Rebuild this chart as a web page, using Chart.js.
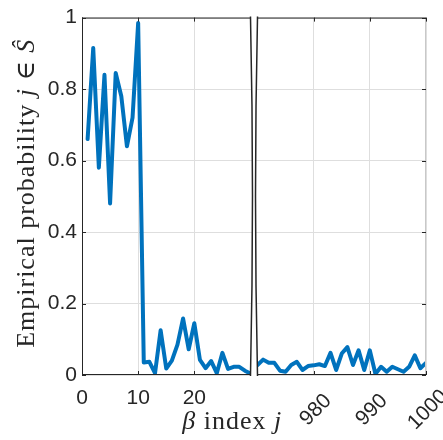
<!DOCTYPE html>
<html><head><meta charset="utf-8">
<script src="https://cdn.jsdelivr.net/npm/chart.js@4/dist/chart.umd.min.js"></script>
<style>html,body{margin:0;padding:0;background:#fff}</style>
</head><body>
<canvas id="c" width="443" height="440"></canvas>
<script>
// ---- data ----
const leftIndex = [1,2,3,4,5,6,7,8,9,10,11,12,13,14,15,16,17,18,19,20,21,22,23,24,25,26,27,28,29,30];
const leftProb  = [0.66,0.915,0.58,0.84,0.48,0.845,0.78,0.64,0.72,0.985,
                   0.035,0.037,0.005,0.125,0.018,0.04,0.085,0.158,0.072,0.145,
                   0.042,0.019,0.039,0.005,0.062,0.017,0.023,0.023,0.012,0.004];
const rightIndex = [970,971,972,973,974,975,976,977,978,979,980,981,982,983,984,985,986,987,988,989,990,991,992,993,994,995,996,997,998,999,1000];
const rightProb  = [0.028,0.043,0.034,0.034,0.012,0.009,0.028,0.037,0.014,0.025,
                    0.027,0.03,0.025,0.062,0.014,0.06,0.078,0.028,0.069,0.014,
                    0.069,0.003,0.023,0.009,0.023,0.016,0.009,0.023,0.055,0.019,0.034];
const leftTicks  = [0,10,20];
const rightTicks = [980,990,1000];
const yTicks     = [0,0.2,0.4,0.6,0.8,1];
const leftRange  = [0,30];
const rightRange = [970,1000];
const xTitleParts = [{t:'β',it:true},{t:' index ',it:false},{t:'j',it:true}];
const yTitleParts = [{t:'Empirical probability ',it:false},{t:'j',it:true},{t:' ∈ ',it:false},{t:'Ŝ',it:true}];

// ---- broken-axis mapping ----
const GAP = 1.25;
const pos = i => (i <= leftRange[1] ? i - leftRange[0] : (leftRange[1]-leftRange[0]) + GAP + (i - rightRange[0]));
const xMax = pos(rightRange[1]);

const BLUE = '#0072BD', AX = '#262626', GRID = '#dedede';
const TICKFONT = "21px 'Liberation Sans', Arial, sans-serif";
const SERIF = "'Liberation Serif','DejaVu Serif',serif";

function measureParts(ctx, parts, size) {
  let w = 0;
  const m = parts.map(p => { ctx.font = (p.it?'italic ':'') + size + 'px ' + SERIF; const mw = ctx.measureText(p.t).width; w += mw; return mw; });
  return {w, m};
}
function fillParts(ctx, parts, size, x0, y0) {
  const {w, m} = measureParts(ctx, parts, size);
  let x = x0 - w/2;
  parts.forEach((p,k) => { ctx.font = (p.it?'italic ':'') + size + 'px ' + SERIF; ctx.fillText(p.t, x, y0); x += m[k]; });
}

const breakPlugin = {
  id: 'breakAxis',
  afterDatasetsDraw(chart) {
    const ctx = chart.ctx, ca = chart.chartArea, xs = chart.scales.x, ys = chart.scales.y;
    const xL = xs.getPixelForValue(pos(leftRange[1]));
    const xR = xs.getPixelForValue(pos(rightRange[0]));
    const t = ca.top, b = ca.bottom, mid = (t+b)/2;
    ctx.save();
    ctx.fillStyle = '#fff';
    ctx.beginPath();
    ctx.moveTo(xL, t-1); ctx.quadraticCurveTo(xL+4, mid, xL, b+1);
    ctx.lineTo(xR, b+1); ctx.quadraticCurveTo(xR-4, mid, xR, t-1);
    ctx.closePath(); ctx.fill();
    ctx.strokeStyle = '#c8c8c8'; ctx.lineWidth = 1;
    ctx.beginPath(); ctx.moveTo(ca.right-0.5, t); ctx.lineTo(ca.right-0.5, b); ctx.stroke();
    ctx.strokeStyle = AX; ctx.lineWidth = 1;
    ctx.beginPath();
    ctx.moveTo(ca.left+0.5, t); ctx.lineTo(ca.left+0.5, b);
    ctx.moveTo(ca.left, b-0.5); ctx.lineTo(xL, b-0.5);
    ctx.moveTo(xR, b-0.5); ctx.lineTo(ca.right, b-0.5);
    ctx.moveTo(ca.left, t+0.5); ctx.lineTo(xL, t+0.5);
    ctx.moveTo(xR, t+0.5); ctx.lineTo(ca.right, t+0.5);
    const tl = 4;
    yTicks.forEach(v => { const y = Math.round(ys.getPixelForValue(v))+0.5;
      ctx.moveTo(ca.left, y); ctx.lineTo(ca.left+tl, y);
      ctx.moveTo(ca.right, y); ctx.lineTo(ca.right-tl, y); });
    leftTicks.concat(rightTicks).forEach(v => { const x = Math.round(xs.getPixelForValue(pos(v)))+0.5;
      ctx.moveTo(x, b); ctx.lineTo(x, b-tl);
      ctx.moveTo(x, t); ctx.lineTo(x, t+tl); });
    ctx.stroke();
    ctx.lineWidth = 1.5;
    ctx.beginPath();
    ctx.moveTo(xL, t-1); ctx.quadraticCurveTo(xL+4, mid, xL, b+1);
    ctx.moveTo(xR, t-1); ctx.quadraticCurveTo(xR-4, mid, xR, b+1);
    ctx.stroke();
    ctx.restore();
  },
  afterDraw(chart) {
    const ctx = chart.ctx, ca = chart.chartArea, xs = chart.scales.x;
    ctx.save();
    ctx.fillStyle = AX;
    ctx.font = TICKFONT;
    ctx.textAlign = 'center'; ctx.textBaseline = 'middle';
    leftTicks.forEach(v => ctx.fillText(String(v), xs.getPixelForValue(pos(v)), ca.bottom + 23));
    rightTicks.forEach(v => {
      ctx.save();
      ctx.translate(xs.getPixelForValue(pos(v)) + 2, ca.bottom + 35);
      ctx.rotate(-Math.PI/4);
      ctx.fillText(String(v), 0, 0);
      ctx.restore();
    });
    ctx.textAlign = 'left'; ctx.textBaseline = 'alphabetic';
    ctx.letterSpacing = '1px';
    fillParts(ctx, xTitleParts, 26, ca.left + 0.437*(ca.right-ca.left), ca.bottom + 54);
    ctx.save();
    ctx.translate(34, (ca.top+ca.bottom)/2 - 3);
    ctx.rotate(-Math.PI/2);
    fillParts(ctx, yTitleParts, 26, 0, 0);
    ctx.restore();
    ctx.restore();
  }
};

new Chart(document.getElementById('c'), {
  type: 'scatter',
  data: {
    datasets: [
      { data: leftIndex.map((i,k)=>({x:pos(i), y:leftProb[k]})), showLine:true, borderColor:BLUE, borderWidth:4,
        pointRadius:0, borderJoinStyle:'round', borderCapStyle:'round', tension:0 },
      { data: rightIndex.map((i,k)=>({x:pos(i), y:rightProb[k]})), showLine:true, borderColor:BLUE, borderWidth:4,
        pointRadius:0, borderJoinStyle:'round', borderCapStyle:'round', tension:0 }
    ]
  },
  options: {
    responsive:false, animation:false, devicePixelRatio:1,
    layout:{ padding:{ top:14, right:17, left:0, bottom:0 } },
    plugins:{ legend:{display:false}, tooltip:{enabled:false} },
    scales:{
      x:{ type:'linear', min:0, max:xMax,
          afterBuildTicks: s => { s.ticks = [10,20].concat(rightTicks.slice(0,2)).map(v=>({value:pos(v)})).concat([{value:xMax}]); },
          afterFit: s => { s.height = 65; },
          grid:{ color:GRID, lineWidth:1, drawTicks:false }, border:{display:false},
          ticks:{ display:false } },
      y:{ min:0, max:1,
          afterBuildTicks: s => { s.ticks = yTicks.map(v=>({value:v})); },
          afterFit: s => { s.width = 82; },
          grid:{ color:GRID, lineWidth:1, drawTicks:false }, border:{display:false},
          ticks:{ color:AX, font:{ family:"'Liberation Sans', Arial, sans-serif", size:21 }, padding:5,
                  callback: v => (v===0||v===1) ? String(v) : v.toFixed(1) } }
    }
  },
  plugins:[breakPlugin]
});
</script>
</body></html>
